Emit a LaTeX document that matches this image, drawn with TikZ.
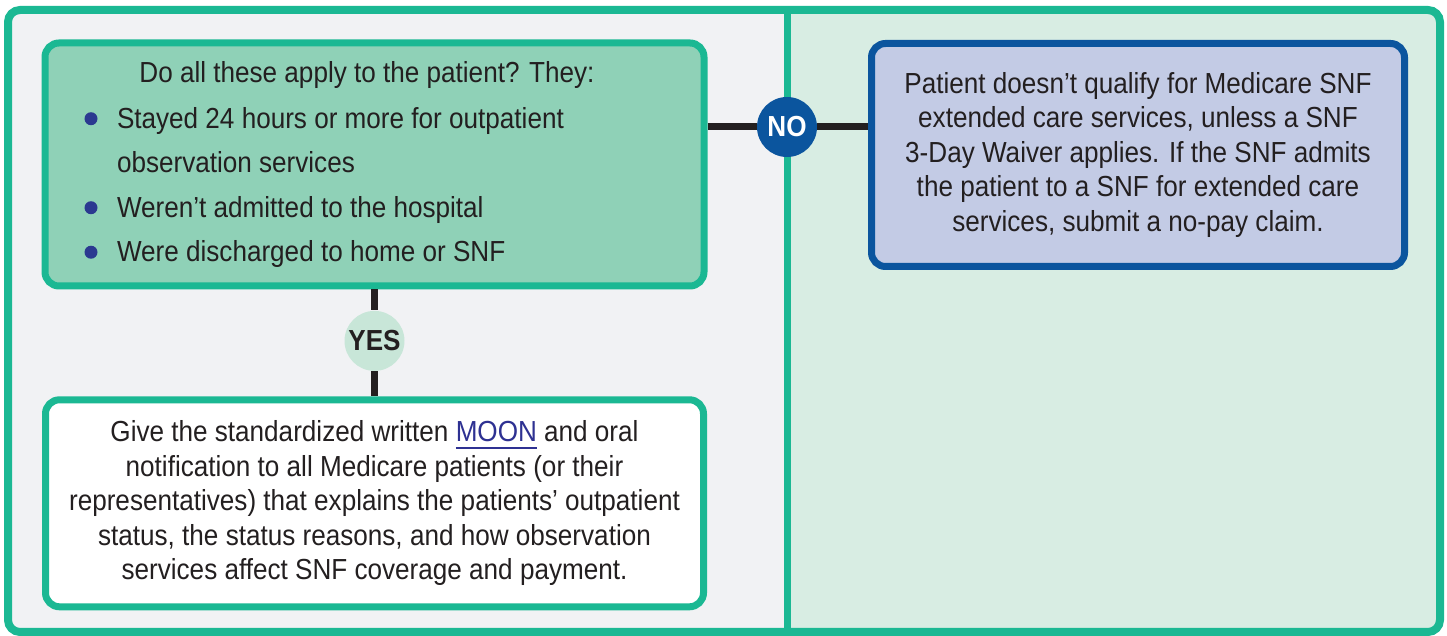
\documentclass[tikz,border=0pt]{standalone}
\usepackage{fontspec}
\setmainfont{Liberation Sans}[FakeStretch=0.9]
\usepackage{tikz}
\usetikzlibrary{arrows.meta,positioning}
\definecolor{framegreen}{RGB}{27,184,147}
\definecolor{leftbg}{RGB}{241,242,244}
\definecolor{rightbg}{RGB}{216,237,227}
\definecolor{checkfill}{RGB}{143,209,183}
\definecolor{noblue}{RGB}{11,85,158}
\definecolor{resultfill}{RGB}{195,203,229}
\definecolor{yesfill}{RGB}{200,230,216}
\definecolor{fontdark}{RGB}{35,31,32}
\definecolor{bulletblue}{RGB}{43,57,144}
\definecolor{linkblue}{RGB}{46,49,146}
\newcommand{\bul}{\makebox[16.25pt][l]{\tikz[baseline=-4.75pt]\fill[bulletblue] (0,0) circle (3.25pt);}}
\newcommand{\moonlink}[1]{\textcolor{linkblue}{\setbox0\hbox{#1}\rlap{\rule[-3.5pt]{\wd0}{1pt}}\box0}}

\begin{document}
\begin{tikzpicture}[x=0.5pt, y=0.5pt, node distance=10.5pt, >=Stealth,
		checkbox/.style={draw=framegreen, line width=3.5pt, rounded corners=7pt, fill=checkfill, minimum width=329.5pt, minimum height=121.5pt, inner sep=0pt, text=fontdark, font=\fontsize{14.5}{22.25}\selectfont},
		actionbox/.style={checkbox, fill=white, minimum width=329pt, minimum height=103.5pt, align=center, font=\fontsize{14.5}{17.25}\selectfont},
		resultbox/.style={actionbox, draw=noblue, fill=resultfill, minimum width=266.5pt, minimum height=111.5pt},
		nocircle/.style={circle, draw=none, fill=noblue, minimum size=30pt, inner sep=0pt, text=white, font=\fontsize{14.5}{14.5}\selectfont\bfseries},
		yescircle/.style={nocircle, fill=yesfill, text=fontdark},
		flowLine/.style={line width=3.5pt, color=fontdark},
		panelFrame/.style={draw=framegreen, line width=4pt, rounded corners=6pt},
		]
		
		\useasboundingbox (0,0) rectangle (1447,636);
		
		% the two panels
		\fill[leftbg, rounded corners=6pt] (8,4) rectangle (1440,626);
		\begin{scope}
			\clip[rounded corners=6pt] (8,4) rectangle (1440,626);
			\fill[rightbg] (787,4) rectangle (1440,626);
		\end{scope}
		\draw[framegreen, line width=3.5pt] (787,4) -- (787,626);
		\draw[panelFrame] (8,4) rectangle (1440,626);
		
		\node[checkbox] (check) at (374.5,471.5) {\parbox{290pt}{%
				\makebox[290pt][c]{Do all these apply to the patient? They:\hspace{7.5pt}}\\[0.75pt]
				\bul Stayed 24 hours or more for outpatient\\
				\hspace*{16.25pt}observation services\\
				\bul Weren’t admitted to the hospital\\
				\bul Were discharged to home or SNF}};
		\node[yescircle, below=10.5pt of check] (yes) {YES};
		\node[actionbox, below=12.5pt of yes] (action) {Give the standardized written \moonlink{MOON} and oral\\
			notification to all Medicare patients (or their\\
			representatives) that explains the patients’ outpatient\\
			status, the status reasons, and how observation\\
			services affect SNF coverage and payment.};
		
		\node[nocircle] (no) at (787,509) {NO};
		\node[resultbox] (result) at (1138,481) {Patient doesn’t qualify for Medicare SNF\\
			extended care services, unless a SNF\\
			3-Day Waiver applies. If the SNF admits\\
			the patient to a SNF for extended care\\
			services, submit a no-pay claim.};
		
		\draw [flowLine] (check.east |- no) to (no);
		\draw [flowLine] (no) to (result.west |- no);
		\draw [flowLine] (check) to (yes);
		\draw [flowLine] (yes) to (action);
		
\end{tikzpicture}
\end{document}
